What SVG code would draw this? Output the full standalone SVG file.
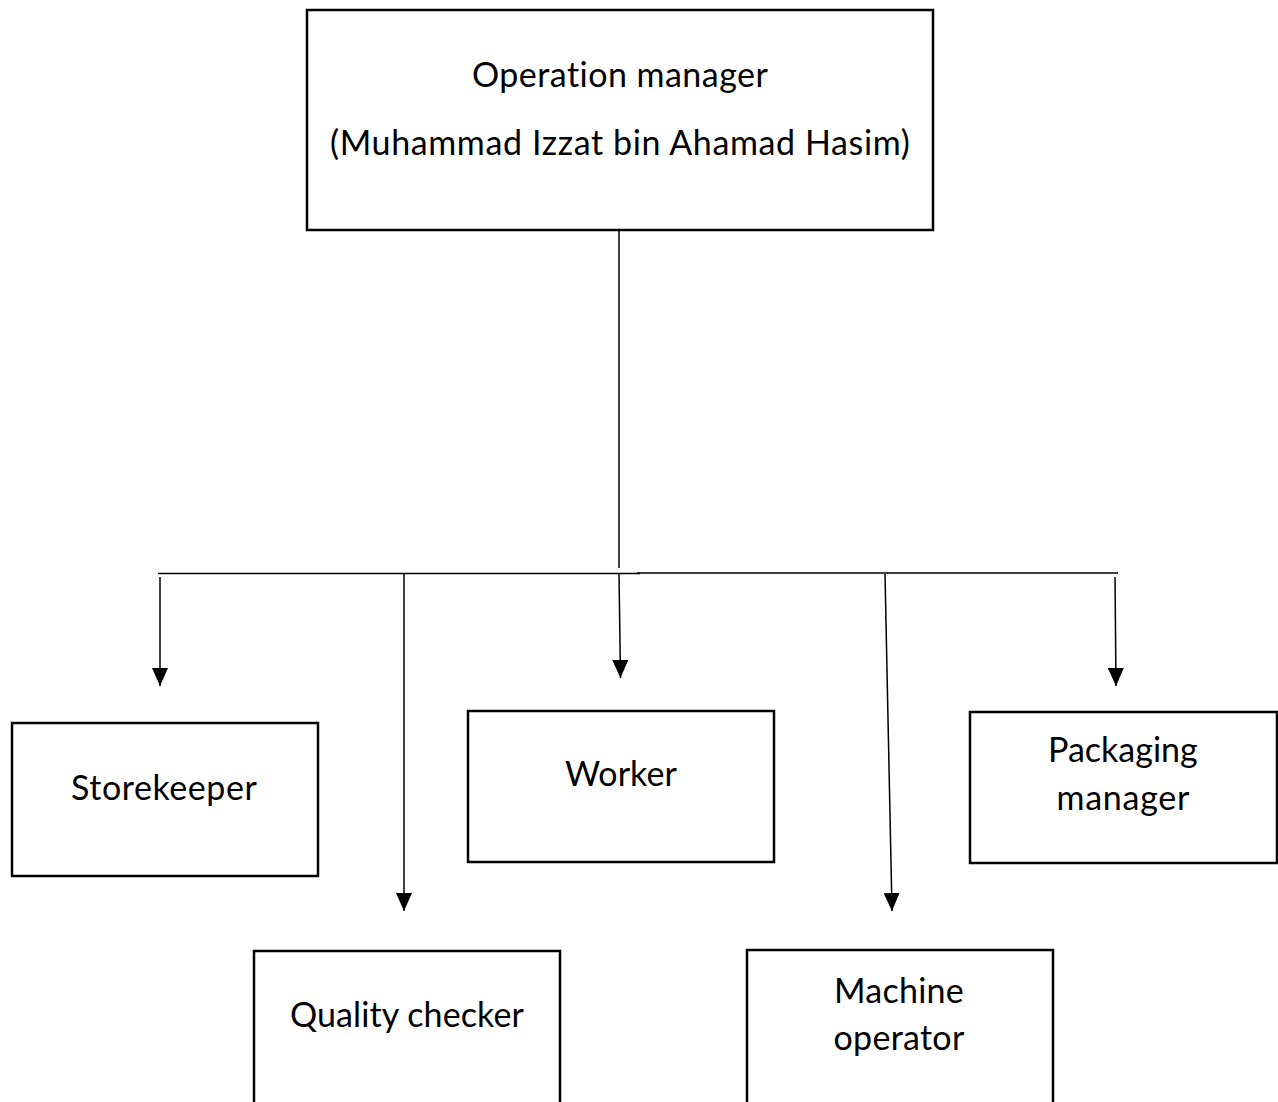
<svg xmlns="http://www.w3.org/2000/svg" width="1278" height="1102" viewBox="0 0 1278 1102">
  <style>
    .box { fill: #ffffff; stroke: #000000; stroke-width: 2.5; }
    .lbl { font-family: Lato, "Open Sans", "Liberation Sans", sans-serif; font-size: 34px; fill: #000000; text-anchor: middle; font-variant-ligatures: none; font-feature-settings: "liga" 0, "clig" 0, "calt" 0, "dlig" 0; letter-spacing: 0.2px; }
    .wire { fill: none; stroke: #000000; stroke-width: 1.5; }
  </style>
  <defs>
    <marker id="head" viewBox="0 0 18 16" refX="18" refY="8" markerWidth="18" markerHeight="16" markerUnits="userSpaceOnUse" orient="auto">
      <path d="M0,0 L18,8 L0,16 z" fill="#000000"/>
    </marker>
  </defs>

  <rect width="1278" height="1102" fill="#ffffff"/>

  <!-- connectors -->
  <g id="connectors">
    <line class="wire" x1="619" y1="231" x2="619" y2="568"/>
    <line class="wire" x1="158" y1="573.5" x2="640" y2="573.5"/>
    <line class="wire" x1="637" y1="573" x2="1118" y2="573"/>
    <line class="wire" x1="160" y1="577" x2="160" y2="686" marker-end="url(#head)"/>
    <line class="wire" x1="404" y1="574" x2="404" y2="911" marker-end="url(#head)"/>
    <line class="wire" x1="619" y1="574" x2="620.5" y2="678" marker-end="url(#head)"/>
    <line class="wire" x1="885" y1="574" x2="892" y2="911" marker-end="url(#head)"/>
    <line class="wire" x1="1115" y1="577" x2="1116" y2="686" marker-end="url(#head)"/>
  </g>

  <!-- operation manager -->
  <g id="operation-manager">
    <rect class="box" x="307" y="10" width="626" height="220"/>
    <text class="lbl" x="620" y="87" textLength="296">Operation manager</text>
    <text class="lbl" x="620" y="155" textLength="580">(Muhammad Izzat bin Ahamad Hasim)</text>
  </g>

  <!-- storekeeper -->
  <g id="storekeeper">
    <rect class="box" x="12" y="723" width="306" height="153"/>
    <text class="lbl" x="164" y="800" textLength="186">Storekeeper</text>
  </g>

  <!-- worker -->
  <g id="worker">
    <rect class="box" x="468" y="711" width="306" height="151"/>
    <text class="lbl" x="621" y="786" textLength="112">Worker</text>
  </g>

  <!-- packaging manager -->
  <g id="packaging-manager">
    <rect class="box" x="970" y="712" width="307" height="151"/>
    <text class="lbl" x="1123" y="762" textLength="150">Packaging</text>
    <text class="lbl" x="1123" y="810" textLength="133">manager</text>
  </g>

  <!-- quality checker -->
  <g id="quality-checker">
    <rect class="box" x="254" y="951" width="306" height="160"/>
    <text class="lbl" x="407" y="1027" textLength="234">Quality checker</text>
  </g>

  <!-- machine operator -->
  <g id="machine-operator">
    <rect class="box" x="747" y="950" width="306" height="160"/>
    <text class="lbl" x="899" y="1003" textLength="130">Machine</text>
    <text class="lbl" x="899" y="1050" textLength="131">operator</text>
  </g>
</svg>
